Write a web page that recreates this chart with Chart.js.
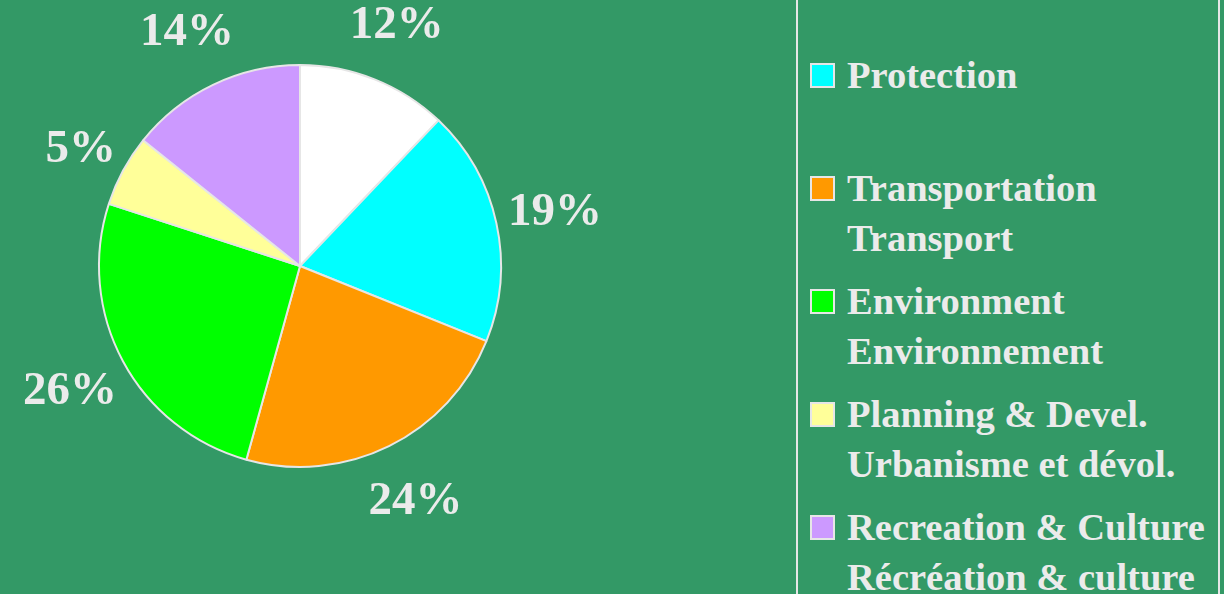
<!DOCTYPE html>
<html>
<head>
<meta charset="utf-8">
<script src="https://cdn.jsdelivr.net/npm/chart.js@4/dist/chart.umd.min.js"></script>
<style>
    html, body { margin: 0; padding: 0; }
    body {
        width: 1224px;
        height: 594px;
        overflow: hidden;
        background: #339966;
        position: relative;
        font-family: "Liberation Serif", "Times New Roman", serif;
        color: #ebebeb;
    }
    #pieWrap { position: absolute; left: 0; top: 0; width: 780px; height: 594px; }
    #legendBox {
        position: absolute;
        left: 796px;
        top: -10px;
        width: 420px;
        height: 620px;
        border-left: 2px solid #e6e6e6;
        border-right: 2px solid #e6e6e6;
    }
    .entry { position: absolute; left: 0; font-weight: bold; font-size: 38.5px; line-height: 50px; }
    .entry .sw {
        position: absolute;
        left: 12px;
        top: 13px;
        width: 25px;
        height: 25px;
        box-sizing: border-box;
        border: 2px solid #e6e6e6;
    }
    .entry .txt { position: absolute; left: 49px; white-space: nowrap; }
</style>
</head>
<body>
<div id="pieWrap"><canvas id="pie"></canvas></div>
<div id="legendBox"></div>
<script>
// ── Data ──────────────────────────────────────────────────────────────────────
const categories = ['Other', 'Protection', 'Transportation', 'Environment', 'Planning & Devel.', 'Recreation & Culture'];
const categoriesFr = ['', '', 'Transport', 'Environnement', 'Urbanisme et dévol.', 'Récréation & culture'];
// slice sizes as measured from the drawing, and the percentages printed beside them
const shares = [12.1, 19.0, 23.2, 25.7, 5.75, 14.25];
const pctText = ['12%', '19%', '24%', '26%', '5%', '14%'];
const colors = ['#ffffff', '#00ffff', '#ff9900', '#00ff00', '#ffff99', '#cc99ff'];

const textColor = '#ebebeb';

// ── Percentage labels outside each slice ─────────────────────────────────────
const pctLabels = {
    id: 'pctLabels',
    afterDatasetsDraw(chart) {
        const ctx = chart.ctx;
        const meta = chart.getDatasetMeta(0);
        ctx.save();
        ctx.font = 'bold 47px "Liberation Serif", "Times New Roman", serif';
        ctx.fillStyle = textColor;
        ctx.textAlign = 'center';
        ctx.textBaseline = 'middle';
        meta.data.forEach((arc, i) => {
            const p = arc.getProps(['x', 'y', 'startAngle', 'endAngle', 'outerRadius'], true);
            const mid = (p.startAngle + p.endAngle) / 2;
            const text = pctText[i];
            const w = ctx.measureText(text).width;
            const r = p.outerRadius + 13 + w / 2;
            ctx.fillText(text, p.x + Math.cos(mid) * r, p.y + Math.sin(mid) * r + 2);
        });
        ctx.restore();
    }
};

new Chart(document.getElementById('pie'), {
    type: 'pie',
    data: {
        labels: categories,
        datasets: [{
            data: shares,
            backgroundColor: colors,
            borderColor: '#e6e6e6',
            borderWidth: 2
        }]
    },
    options: {
        responsive: true,
        maintainAspectRatio: false,
        animation: false,
        layout: { padding: { left: 97, right: 277, top: 64, bottom: 126 } },
        plugins: {
            legend: { display: false },
            tooltip: { enabled: false }
        }
    },
    plugins: [pctLabels]
});

// ── Legend (white slice has no entry) ────────────────────────────────────────
const box = document.getElementById('legendBox');
categories.forEach((name, i) => {
    if (i === 0) return;
    const e = document.createElement('div');
    e.className = 'entry';
    e.style.top = (60 + (i - 1) * 113) + 'px';
    e.innerHTML = `<div class="sw" style="background:${colors[i]}"></div>
                   <div class="txt">${name}<br>${categoriesFr[i]}</div>`;
    box.appendChild(e);
});
</script>
</body>
</html>
